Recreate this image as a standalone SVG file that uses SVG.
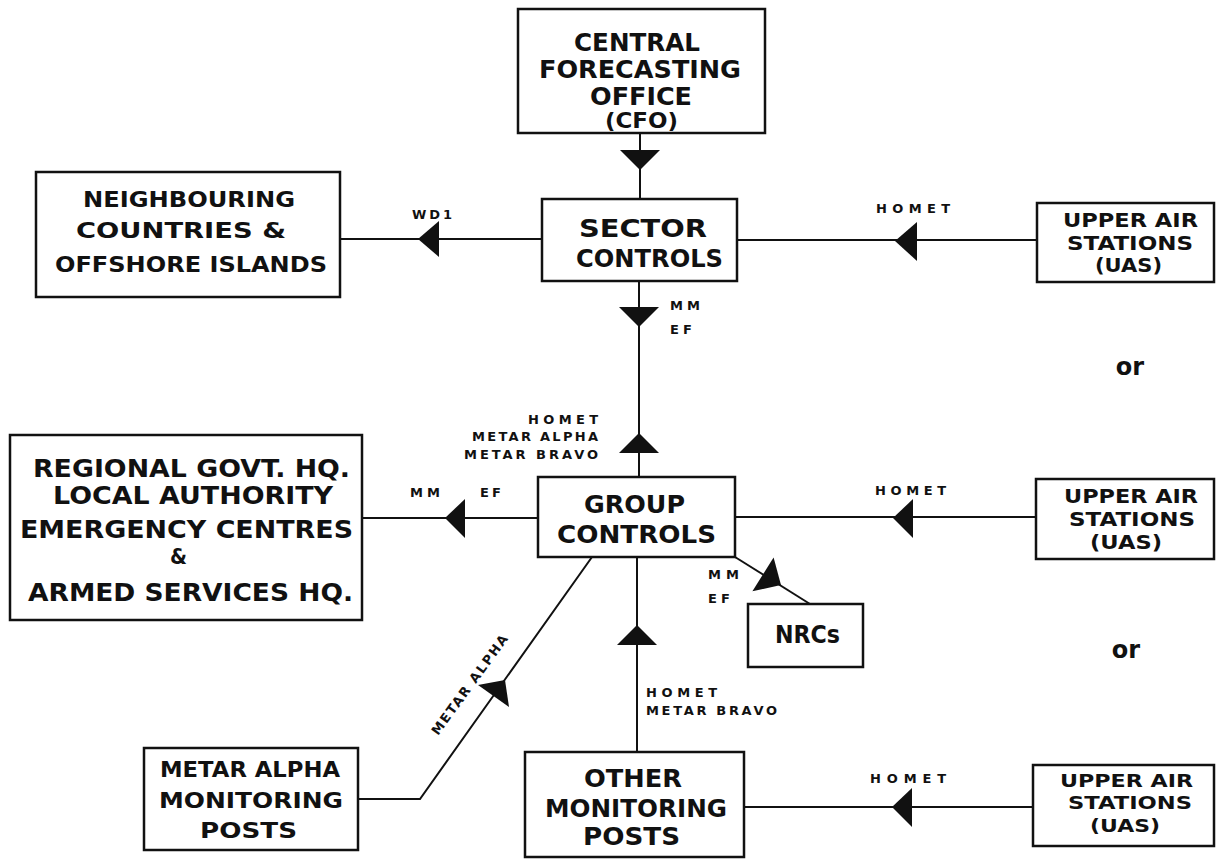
<svg xmlns="http://www.w3.org/2000/svg" width="1219" height="859" viewBox="0 0 1219 859">
  <style>
    text { font-family: "DejaVu Sans", "Liberation Sans", Arial, sans-serif; font-weight: bold; fill: #111; }
    .box { fill: #fff; stroke: #111; stroke-width: 2.5; }
    .big { font-size: 25px; }
    .mid { font-size: 21px; }
    .uas { font-size: 20px; }
    .uas-s { font-size: 18px; }
    .amp { font-size: 21px; }
    .sm { font-size: 13px; }
    .or { font-size: 24px; }
    .wire { fill: none; stroke: #111; stroke-width: 2; }
    .head { fill: #111; stroke: none; }
  </style>

  <!-- connectors -->
  <g id="connectors">
    <!-- CFO to sector controls -->
    <line class="wire" x1="640" y1="133" x2="640" y2="199"/>
    <polygon class="head" points="620,150 660,150 640,170"/>
    <!-- sector controls to neighbouring countries -->
    <line class="wire" x1="340" y1="239" x2="542" y2="239"/>
    <polygon class="head" points="418,239 439,221 439,257"/>
    <text class="sm" x="412" y="219" textLength="40">WD1</text>
    <!-- upper air stations to sector controls -->
    <line class="wire" x1="737" y1="240" x2="1037" y2="240"/>
    <polygon class="head" points="895,241 917,222 917,261"/>
    <text class="sm" x="876" y="213" textLength="74">HOMET</text>
    <!-- sector controls / group controls -->
    <line class="wire" x1="639" y1="281" x2="639" y2="477"/>
    <polygon class="head" points="619,307 659,307 639,327"/>
    <text class="sm" x="670" y="310" textLength="30">MM</text>
    <text class="sm" x="670" y="334" textLength="22">EF</text>
    <polygon class="head" points="619,453 659,453 639,433"/>
    <text class="sm" x="598" y="424" text-anchor="end" textLength="70">HOMET</text>
    <text class="sm" x="598" y="441" text-anchor="end" textLength="126">METAR ALPHA</text>
    <text class="sm" x="598" y="459" text-anchor="end" textLength="134">METAR BRAVO</text>
    <!-- group controls to regional HQ -->
    <line class="wire" x1="362" y1="518" x2="538" y2="518"/>
    <polygon class="head" points="445,518 465,499 465,538"/>
    <text class="sm" x="410" y="497" textLength="30">MM</text>
    <text class="sm" x="480" y="497" textLength="21">EF</text>
    <!-- upper air stations to group controls -->
    <line class="wire" x1="735" y1="517" x2="1036" y2="517"/>
    <polygon class="head" points="893,518 913,499 913,538"/>
    <text class="sm" x="875" y="495" textLength="71">HOMET</text>
    <!-- group controls to NRCs -->
    <line class="wire" x1="735" y1="557" x2="810" y2="604"/>
    <polygon class="head" points="781,585 773.6,557.5 752.4,591.3"/>
    <text class="sm" x="708" y="579" textLength="31">MM</text>
    <text class="sm" x="708" y="603" textLength="22">EF</text>
    <!-- other monitoring posts to group controls -->
    <line class="wire" x1="637" y1="557" x2="637" y2="752"/>
    <polygon class="head" points="617,645 657,645 637,625"/>
    <text class="sm" x="646" y="697" textLength="71">HOMET</text>
    <text class="sm" x="646" y="715" textLength="131">METAR BRAVO</text>
    <!-- upper air stations to other monitoring posts -->
    <line class="wire" x1="744" y1="807" x2="1033" y2="807"/>
    <polygon class="head" points="892,807 912,788 912,827"/>
    <text class="sm" x="870" y="783" textLength="76">HOMET</text>
    <!-- METAR alpha posts to group controls -->
    <polyline class="wire" points="358,799 420,799 592,557"/>
    <polygon class="head" points="505,680 509,707 478,685"/>
    <text class="sm" transform="translate(438,736) rotate(-54)" x="0" y="0" textLength="120">METAR ALPHA</text>
  </g>

  <g id="cfo">
    <rect class="box" x="518" y="9" width="247" height="124"/>
    <text class="big" x="574" y="51" textLength="126" lengthAdjust="spacingAndGlyphs">CENTRAL</text>
    <text class="big" x="539" y="78" textLength="202" lengthAdjust="spacingAndGlyphs">FORECASTING</text>
    <text class="big" x="590" y="105" textLength="102" lengthAdjust="spacingAndGlyphs">OFFICE</text>
    <text class="mid" x="605" y="128" textLength="73" lengthAdjust="spacingAndGlyphs">(CFO)</text>
  </g>

  <g id="sector-controls">
    <rect class="box" x="542" y="199" width="195" height="82"/>
    <text class="big" x="579" y="237" textLength="128" lengthAdjust="spacingAndGlyphs">SECTOR</text>
    <text class="big" x="576" y="267" textLength="147" lengthAdjust="spacingAndGlyphs">CONTROLS</text>
  </g>

  <g id="neighbouring">
    <rect class="box" x="36" y="172" width="304" height="125"/>
    <text class="mid" x="83" y="207" textLength="212" lengthAdjust="spacingAndGlyphs">NEIGHBOURING</text>
    <text class="mid" x="76" y="238" textLength="210" lengthAdjust="spacingAndGlyphs">COUNTRIES &amp;</text>
    <text class="mid" x="55" y="272" textLength="272" lengthAdjust="spacingAndGlyphs">OFFSHORE ISLANDS</text>
  </g>

  <g id="uas-1">
    <rect class="box" x="1037" y="203" width="177" height="79"/>
    <text class="uas" x="1063" y="227" textLength="135" lengthAdjust="spacingAndGlyphs">UPPER AIR</text>
    <text class="uas" x="1067" y="250" textLength="126" lengthAdjust="spacingAndGlyphs">STATIONS</text>
    <text class="uas" x="1095" y="272" textLength="67" lengthAdjust="spacingAndGlyphs">(UAS)</text>
  </g>

  <text class="or" x="1130" y="375" text-anchor="middle">or</text>

  <g id="regional">
    <rect class="box" x="10" y="435" width="352" height="185"/>
    <text class="big" x="33" y="477" textLength="317" lengthAdjust="spacingAndGlyphs">REGIONAL GOVT. HQ.</text>
    <text class="big" x="53" y="504" textLength="280" lengthAdjust="spacingAndGlyphs">LOCAL AUTHORITY</text>
    <text class="big" x="20" y="538" textLength="333" lengthAdjust="spacingAndGlyphs">EMERGENCY CENTRES</text>
    <text class="amp" x="170" y="564" textLength="17" lengthAdjust="spacingAndGlyphs">&amp;</text>
    <text class="big" x="28" y="601" textLength="325" lengthAdjust="spacingAndGlyphs">ARMED SERVICES HQ.</text>
  </g>

  <g id="group-controls">
    <rect class="box" x="538" y="477" width="197" height="80"/>
    <text class="big" x="584" y="513" textLength="101" lengthAdjust="spacingAndGlyphs">GROUP</text>
    <text class="big" x="557" y="543" textLength="159" lengthAdjust="spacingAndGlyphs">CONTROLS</text>
  </g>

  <g id="uas-2">
    <rect class="box" x="1036" y="479" width="178" height="80"/>
    <text class="uas" x="1064" y="503" textLength="134" lengthAdjust="spacingAndGlyphs">UPPER AIR</text>
    <text class="uas" x="1069" y="526" textLength="126" lengthAdjust="spacingAndGlyphs">STATIONS</text>
    <text class="uas" x="1090" y="549" textLength="72" lengthAdjust="spacingAndGlyphs">(UAS)</text>
  </g>

  <g id="nrcs">
    <rect class="box" x="748" y="604" width="115" height="63"/>
    <text class="big" x="775" y="643" textLength="65" lengthAdjust="spacingAndGlyphs">NRCs</text>
  </g>

  <text class="or" x="1126" y="658" text-anchor="middle">or</text>

  <g id="metar-alpha-posts">
    <rect class="box" x="144" y="748" width="214" height="102"/>
    <text class="mid" x="160" y="777" textLength="180" lengthAdjust="spacingAndGlyphs">METAR ALPHA</text>
    <text class="mid" x="159" y="808" textLength="184" lengthAdjust="spacingAndGlyphs">MONITORING</text>
    <text class="mid" x="200" y="838" textLength="97" lengthAdjust="spacingAndGlyphs">POSTS</text>
  </g>

  <g id="other-monitoring-posts">
    <rect class="box" x="525" y="752" width="219" height="105"/>
    <text class="big" x="584" y="787" textLength="98" lengthAdjust="spacingAndGlyphs">OTHER</text>
    <text class="big" x="545" y="817" textLength="182" lengthAdjust="spacingAndGlyphs">MONITORING</text>
    <text class="big" x="583" y="845" textLength="97" lengthAdjust="spacingAndGlyphs">POSTS</text>
  </g>

  <g id="uas-3">
    <rect class="box" x="1033" y="765" width="181" height="81"/>
    <text class="uas-s" x="1060" y="787" textLength="133" lengthAdjust="spacingAndGlyphs">UPPER AIR</text>
    <text class="uas-s" x="1068" y="809" textLength="124" lengthAdjust="spacingAndGlyphs">STATIONS</text>
    <text class="uas-s" x="1090" y="832" textLength="70" lengthAdjust="spacingAndGlyphs">(UAS)</text>
  </g>
</svg>
